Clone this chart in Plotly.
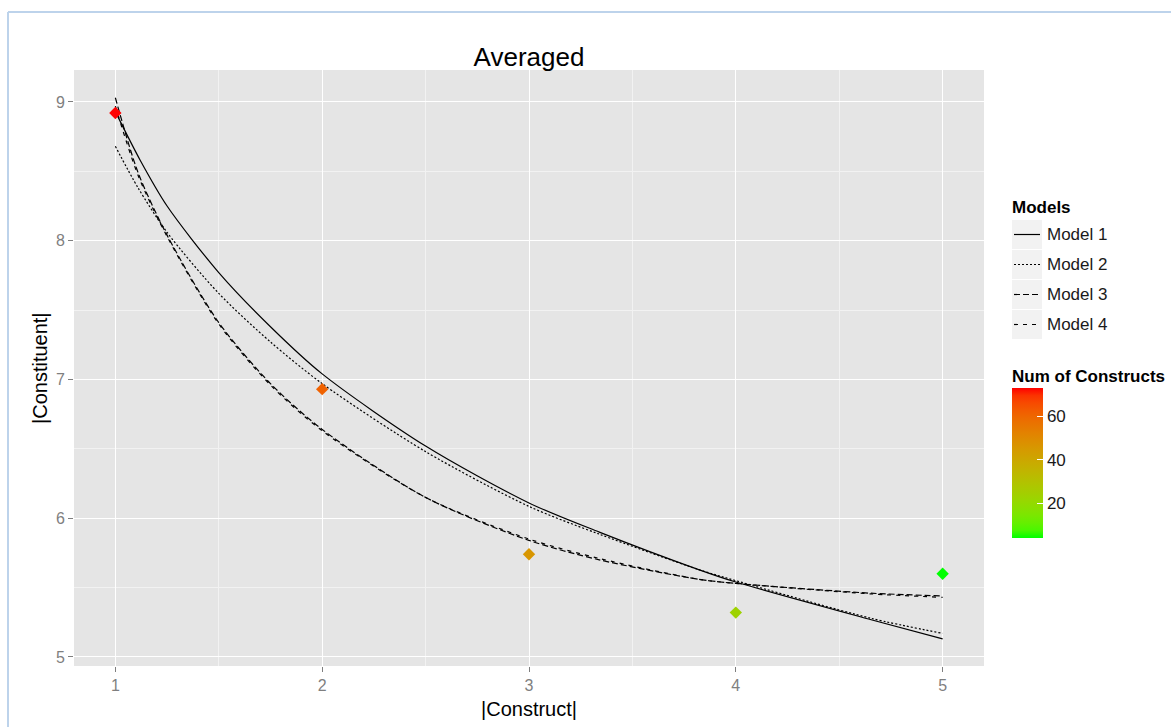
import plotly.graph_objects as go
import numpy as np

# ---------------- data ----------------
construct = [1, 2, 3, 4, 5]
constituent = [8.92, 6.93, 5.74, 5.32, 5.60]
num_constructs = [73, 61, 46, 23, 4]

m1_x = [1.0, 1.12, 1.25, 1.5, 1.75, 2.0, 2.5, 3.0, 3.34, 3.82, 4.0, 4.65, 5.0]
m1_y = [8.93, 8.58, 8.25, 7.77, 7.38, 7.04, 6.52, 6.11, 5.90, 5.63, 5.54, 5.27, 5.13]

m2_x = [1.0, 1.11, 1.25, 1.5, 1.75, 2.0, 2.5, 3.0, 3.34, 3.82, 4.0, 4.65, 5.0]
m2_y = [8.68, 8.38, 8.06, 7.62, 7.27, 6.97, 6.48, 6.085, 5.885, 5.63, 5.55, 5.28, 5.17]

m3_x = [1.0, 1.11, 1.25, 1.5, 1.75, 2.0, 2.5, 3.0, 3.34, 3.82, 4.0, 4.65, 5.0]
m3_y = [9.03, 8.49, 8.04, 7.41, 6.97, 6.64, 6.15, 5.84, 5.70, 5.56, 5.53, 5.46, 5.44]

m4_x = [1.0, 1.11, 1.25, 1.5, 1.75, 2.0, 2.5, 3.0, 3.34, 3.82, 4.0, 4.65, 5.0]
m4_y = [8.97, 8.47, 8.03, 7.40, 6.96, 6.63, 6.15, 5.85, 5.71, 5.56, 5.53, 5.455, 5.43]

model_names = ["Model 1", "Model 2", "Model 3", "Model 4"]
model_dashes = ["solid", "2px,2px", "6px,3px", "4px,5px"]

x_ticks = [1, 2, 3, 4, 5]
y_ticks = [5, 6, 7, 8, 9]
cbar_ticks = [20, 40, 60]
c_min, c_max = 4, 73

# ---------------- colour scale (Lab interpolation green -> red) ----------------
def srgb_to_lab(rgb):
    c = np.array(rgb, float) / 255.0
    c = np.where(c <= 0.04045, c / 12.92, ((c + 0.055) / 1.055) ** 2.4)
    M = np.array([[0.4124, 0.3576, 0.1805], [0.2126, 0.7152, 0.0722], [0.0193, 0.1192, 0.9505]])
    xyz = M @ c
    wp = np.array([0.95047, 1.0, 1.08883])
    t = xyz / wp
    f = np.where(t > (6 / 29) ** 3, np.cbrt(t), t / (3 * (6 / 29) ** 2) + 4 / 29)
    return np.array([116 * f[1] - 16, 500 * (f[0] - f[1]), 200 * (f[1] - f[2])])

def lab_to_srgb(lab):
    L, a, b = lab
    fy = (L + 16) / 116
    fx = fy + a / 500
    fz = fy - b / 200
    def finv(f):
        return f ** 3 if f > 6 / 29 else 3 * (6 / 29) ** 2 * (f - 4 / 29)
    wp = np.array([0.95047, 1.0, 1.08883])
    xyz = np.array([finv(fx), finv(fy), finv(fz)]) * wp
    Minv = np.array([[3.2406, -1.5372, -0.4986], [-0.9689, 1.8758, 0.0415], [0.0557, -0.2040, 1.0570]])
    c = Minv @ xyz
    c = np.clip(c, 0, 1)
    c = np.where(c <= 0.0031308, 12.92 * c, 1.055 * c ** (1 / 2.4) - 0.055)
    c = np.clip(np.round(c * 255), 0, 255).astype(int)
    return "rgb(%d,%d,%d)" % tuple(c)

lab_lo = srgb_to_lab((0, 255, 0))
lab_hi = srgb_to_lab((255, 0, 0))
colorscale = [[t, lab_to_srgb(lab_lo + (lab_hi - lab_lo) * t)] for t in np.linspace(0, 1, 21)]

# ---------------- geometry helpers ----------------
W, H = 1171, 727
L_PX, R_PX, T_PX, B_PX = 74, 984, 70, 666

def px2x(px):
    return (px - L_PX) / (R_PX - L_PX)

def py2y(py):
    return (B_PX - py) / (B_PX - T_PX)

FONT = "Liberation Sans, Arial, sans-serif"

fig = go.Figure()

for xs, ys, name, dash in zip([m1_x, m2_x, m3_x, m4_x], [m1_y, m2_y, m3_y, m4_y], model_names, model_dashes):
    fig.add_trace(go.Scatter(
        x=xs, y=ys, mode="lines", name=name, showlegend=False,
        line=dict(color="black", width=1.2, dash=dash, shape="spline", smoothing=0.8),
    ))

cb_top, cb_bot = 388, 538
fig.add_trace(go.Scatter(
    x=construct, y=constituent, mode="markers", showlegend=False, name="Num of Constructs",
    marker=dict(
        symbol="diamond", size=9.5, color=num_constructs, colorscale=colorscale,
        cmin=c_min, cmax=c_max, line=dict(width=0),
        colorbar=dict(
            x=px2x(1012), xanchor="left", y=py2y(cb_bot), yanchor="bottom",
            len=cb_bot - cb_top, lenmode="pixels", thickness=31, thicknessmode="pixels",
            xpad=0, ypad=0, outlinewidth=0, tickvals=cbar_ticks, ticks="inside",
            ticklen=6, tickcolor="white", tickwidth=1,
            tickfont=dict(family=FONT, size=17, color="#1A1A1A"),
        ),
    ),
))

shapes = []
annotations = []

# outer window border
shapes.append(dict(type="line", xref="paper", yref="paper", x0=px2x(8), x1=px2x(1171),
                   y0=py2y(12), y1=py2y(12), line=dict(color="#BDD3EB", width=2)))
shapes.append(dict(type="line", xref="paper", yref="paper", x0=px2x(8), x1=px2x(8),
                   y0=py2y(12), y1=py2y(727), line=dict(color="#BDD3EB", width=2)))

# Models legend
annotations.append(dict(text="<b>Models</b>", xref="paper", yref="paper", x=px2x(1010), y=py2y(207),
                        xanchor="left", yanchor="middle", showarrow=False,
                        font=dict(family=FONT, size=17, color="black")))
for i, (name, dash) in enumerate(zip(model_names, model_dashes)):
    top = 220 + 30 * i
    cy = top + 14.5
    shapes.append(dict(type="rect", xref="paper", yref="paper", x0=px2x(1012), x1=px2x(1042),
                       y0=py2y(top), y1=py2y(top + 29), fillcolor="#F2F2F2", line=dict(width=0)))
    shapes.append(dict(type="line", xref="paper", yref="paper", x0=px2x(1014), x1=px2x(1040),
                       y0=py2y(cy), y1=py2y(cy), line=dict(color="black", width=1.2, dash=dash)))
    annotations.append(dict(text=name, xref="paper", yref="paper", x=px2x(1045), y=py2y(cy),
                            xanchor="left", yanchor="middle", showarrow=False,
                            font=dict(family=FONT, size=17, color="#1A1A1A")))

# colour bar title and left-side ticks
annotations.append(dict(text="<b>Num of Constructs</b>", xref="paper", yref="paper", x=px2x(1010),
                        y=py2y(376), xanchor="left", yanchor="middle", showarrow=False,
                        font=dict(family=FONT, size=17, color="black")))
for v in cbar_ticks:
    ty = cb_bot - (v - c_min) / (c_max - c_min) * (cb_bot - cb_top)
    shapes.append(dict(type="line", xref="paper", yref="paper", x0=px2x(1012), x1=px2x(1018),
                       y0=py2y(ty), y1=py2y(ty), line=dict(color="white", width=1)))

# axis titles
annotations.append(dict(text="|Construct|", xref="paper", yref="paper", x=0.5, y=py2y(709),
                        xanchor="center", yanchor="middle", showarrow=False,
                        font=dict(family=FONT, size=20, color="black")))
annotations.append(dict(text="|Constituent|", xref="paper", yref="paper", x=px2x(40), y=py2y(368),
                        xanchor="center", yanchor="middle", showarrow=False, textangle=-90,
                        font=dict(family=FONT, size=20, color="black")))

axis_common = dict(
    showgrid=True, gridcolor="white", gridwidth=1.2, zeroline=False, showline=False,
    ticks="outside", ticklen=5, tickwidth=1, tickcolor="#7F7F7F",
    tickfont=dict(family=FONT, size=16, color="#7F7F7F"),
)

fig.update_layout(
    width=W, height=H,
    margin=dict(l=L_PX, r=W - R_PX, t=T_PX, b=H - B_PX, pad=0),
    paper_bgcolor="white", plot_bgcolor="#E5E5E5",
    title=dict(text="Averaged", x=0.5, xref="paper", y=1 - 57 / H, yref="container",
               xanchor="center", yanchor="middle", font=dict(family=FONT, size=26, color="black")),
    xaxis=dict(range=[0.8, 5.2], tickvals=x_ticks, ticktext=[str(v) for v in x_ticks],
               minor=dict(tickvals=[1.5, 2.5, 3.5, 4.5], showgrid=True, gridcolor="#F2F2F2",
                          gridwidth=0.8, ticks=""),
               **axis_common),
    yaxis=dict(range=[4.935, 9.23], tickvals=y_ticks, ticktext=[str(v) for v in y_ticks],
               minor=dict(tickvals=[5.5, 6.5, 7.5, 8.5], showgrid=True, gridcolor="#F2F2F2",
                          gridwidth=0.8, ticks=""),
               **axis_common),
    shapes=shapes, annotations=annotations, showlegend=False,
)

fig.write_html("out.html")
